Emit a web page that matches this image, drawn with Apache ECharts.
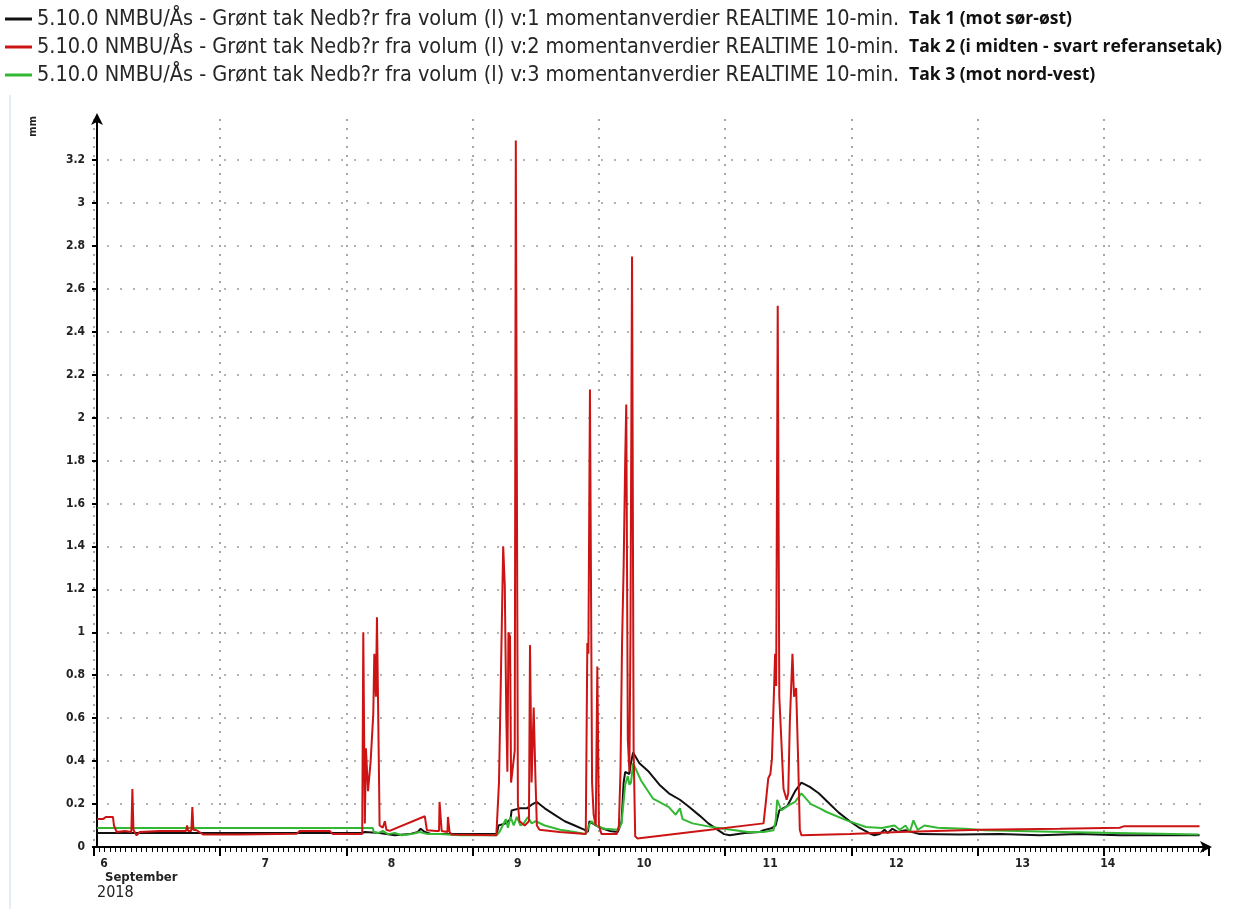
<!DOCTYPE html>
<html>
<head>
<meta charset="utf-8">
<title>Grønt tak - nedbør</title>
<script src="https://cdn.jsdelivr.net/npm/echarts@6/dist/echarts.min.js"></script>
<style>
  html, body { margin: 0; padding: 0; background: #fff; }
  #chart { width: 1243px; height: 909px; }
</style>
</head>
<body>
<div id="chart"></div>
<script>
const seriesNames = [
  '5.10.0 NMBU/Ås - Grønt tak Nedb?r fra volum (l) v:1 momentanverdier REALTIME 10-min.',
  '5.10.0 NMBU/Ås - Grønt tak Nedb?r fra volum (l) v:2 momentanverdier REALTIME 10-min.',
  '5.10.0 NMBU/Ås - Grønt tak Nedb?r fra volum (l) v:3 momentanverdier REALTIME 10-min.'
];
const roofNames = ['Tak 1 (mot sør-øst)', 'Tak 2 (i midten - svart referansetak)', 'Tak 3 (mot nord-vest)'];
const colors = ['#111111', '#cc1414', '#33b833'];
const dayLabels = ['6', '7', '8', '9', '10', '11', '12', '13', '14'];

// [hours since 6 Sep 2018 00:00, mm]
const tak1 = [[0.6,0.065],[50.9,0.065],[51.5,0.07],[54.3,0.065],[57.2,0.055],[60.0,0.06],[61.6,0.07],[62.1,0.085],[62.9,0.07],[64.2,0.06],[76.6,0.06],[76.9,0.1],[78.3,0.11],[79.2,0.13],[79.4,0.17],[80.9,0.18],[82.3,0.18],[83.4,0.2],[84.2,0.21],[85.7,0.18],[87.6,0.15],[89.5,0.12],[91.4,0.1],[93.3,0.08],[93.9,0.07],[94.2,0.12],[94.8,0.11],[96.2,0.09],[98.0,0.075],[99.6,0.07],[100.3,0.116],[100.7,0.3],[101.0,0.35],[101.8,0.34],[102.0,0.38],[102.5,0.44],[103.7,0.39],[105.5,0.35],[107.5,0.29],[109.3,0.25],[111.4,0.22],[113.0,0.19],[115.2,0.145],[116.8,0.11],[118.6,0.08],[119.8,0.06],[120.9,0.055],[123.7,0.065],[126.6,0.07],[127.3,0.078],[128.8,0.087],[129.6,0.1],[130.3,0.17],[131.8,0.19],[133.3,0.26],[134.5,0.30],[136.1,0.28],[137.8,0.25],[139.9,0.2],[141.6,0.16],[143.7,0.12],[145.3,0.093],[147.6,0.062],[148.4,0.055],[149.4,0.06],[150.3,0.08],[150.9,0.065],[151.8,0.085],[152.8,0.07],[154.3,0.078],[157.0,0.06],[164.6,0.058],[172.2,0.06],[179.8,0.055],[187.4,0.06],[195.0,0.055],[210.2,0.055]];

const tak2 = [[0.6,0.13],[1.7,0.13],[2.3,0.14],[3.6,0.14],[3.8,0.10],[4.3,0.07],[5.9,0.075],[7.1,0.07],[7.3,0.27],[7.5,0.08],[8.1,0.054],[8.7,0.07],[12.5,0.075],[17.5,0.075],[17.7,0.10],[17.9,0.075],[18.5,0.075],[18.7,0.186],[18.9,0.08],[19.5,0.078],[20.8,0.058],[27.2,0.058],[38.6,0.062],[39.1,0.075],[44.8,0.075],[45.4,0.06],[51.0,0.06],[51.2,1.0],[51.5,0.11],[51.7,0.46],[52.1,0.26],[52.6,0.40],[53.1,0.62],[53.3,0.90],[53.6,0.70],[53.8,1.07],[54.2,0.31],[54.3,0.10],[54.9,0.09],[55.3,0.12],[55.6,0.08],[56.2,0.075],[62.9,0.143],[63.3,0.078],[65.1,0.075],[65.6,0.075],[65.7,0.21],[66.1,0.075],[67.2,0.07],[67.3,0.14],[67.6,0.07],[68.0,0.058],[76.5,0.055],[77.0,0.3],[77.3,0.7],[77.8,1.40],[78.1,1.22],[78.4,0.6],[78.6,0.35],[78.8,1.0],[79.1,0.98],[79.3,0.3],[79.6,0.3],[80.0,0.45],[80.2,3.29],[80.3,3.29],[80.6,0.2],[80.9,0.12],[81.9,0.1],[82.7,0.12],[82.9,0.94],[83.2,0.3],[83.6,0.65],[83.9,0.35],[84.2,0.1],[84.7,0.08],[88.5,0.07],[93.5,0.06],[93.8,0.95],[94.0,0.9],[94.3,2.13],[94.7,0.3],[95.0,0.15],[95.4,0.1],[95.7,0.84],[96.0,0.1],[96.5,0.06],[99.4,0.06],[99.8,0.1],[100.1,0.35],[100.4,0.95],[100.7,1.3],[101.0,1.8],[101.2,2.06],[101.5,0.5],[101.8,0.35],[102.0,1.0],[102.3,2.75],[102.6,0.45],[102.9,0.05],[103.3,0.04],[115.2,0.075],[127.3,0.11],[127.7,0.20],[128.2,0.32],[128.6,0.34],[128.9,0.41],[129.5,0.90],[129.7,0.75],[130.0,2.52],[130.3,0.70],[130.7,0.49],[131.1,0.27],[131.7,0.22],[132.0,0.25],[132.3,0.58],[132.8,0.90],[133.1,0.70],[133.5,0.74],[133.9,0.39],[134.2,0.08],[134.5,0.055],[143.7,0.06],[153.2,0.07],[168.4,0.08],[183.6,0.085],[183.9,0.09],[195.0,0.09],[195.9,0.097],[210.2,0.097]];

const tak3 = [[0.6,0.088],[53.0,0.088],[53.2,0.07],[54.0,0.065],[54.9,0.075],[55.9,0.06],[57.2,0.065],[58.5,0.055],[60.4,0.06],[61.9,0.07],[63.5,0.06],[65.7,0.06],[69.5,0.055],[76.6,0.055],[77.1,0.07],[77.7,0.1],[78.3,0.13],[78.7,0.09],[79.2,0.14],[79.8,0.1],[80.4,0.14],[81.1,0.1],[81.7,0.11],[82.5,0.14],[83.2,0.11],[84.0,0.12],[85.7,0.1],[88.6,0.08],[91.4,0.07],[93.5,0.06],[94.1,0.1],[94.6,0.12],[95.4,0.1],[97.1,0.085],[99.6,0.08],[100.3,0.11],[101.0,0.29],[101.5,0.33],[101.8,0.29],[102.1,0.3],[102.5,0.39],[104.0,0.31],[106.3,0.225],[109.3,0.186],[110.6,0.15],[111.4,0.18],[111.9,0.13],[113.8,0.11],[116.8,0.096],[119.8,0.085],[124.3,0.07],[127.3,0.07],[129.2,0.078],[129.6,0.12],[129.9,0.22],[130.7,0.17],[131.8,0.19],[133.3,0.21],[134.5,0.25],[136.3,0.2],[138.0,0.18],[139.3,0.163],[143.1,0.124],[146.8,0.093],[149.8,0.088],[152.2,0.1],[153.2,0.08],[154.3,0.1],[155.1,0.07],[155.8,0.124],[156.6,0.08],[157.9,0.1],[160.4,0.09],[165.6,0.085],[169.3,0.078],[184.3,0.07],[210.0,0.058]];

const narrow = "'DejaVu Sans Condensed', 'Liberation Sans Narrow', sans-serif";

const chart = echarts.init(document.getElementById('chart'));

const lineSeries = (idx, data) => ({
  name: seriesNames[idx],
  type: 'line',
  data: data,
  showSymbol: false,
  clip: false,
  color: colors[idx],
  lineStyle: { color: colors[idx], width: 2 }
});

const option = {
  animation: false,
  backgroundColor: '#fff',
  legend: {
    data: seriesNames,
    orient: 'vertical',
    left: 0,
    top: 3,
    icon: 'rect',
    itemWidth: 27,
    itemHeight: 3,
    itemGap: 6,
    selectedMode: false,
    formatter: (name) => {
      const i = seriesNames.indexOf(name);
      return '{a|' + name + '}   {b|' + roofNames[i] + '}';
    },
    textStyle: {
      rich: {
        a: { fontFamily: narrow, fontSize: 21.5, color: '#262626', lineHeight: 24 },
        b: { fontFamily: 'Open Sans', fontWeight: 'bold', fontSize: 17.5, color: '#111', lineHeight: 24 }
      }
    }
  },
  grid: { left: 94, right: 34, top: 119, bottom: 62 },
  xAxis: {
    type: 'value',
    min: 0,
    max: 212,
    interval: 24,
    axisLine: {
      lineStyle: { color: '#000', width: 2 },
      symbol: ['none', 'arrow'],
      symbolSize: [9, 12],
      symbolOffset: [0, 3]
    },
    axisTick: { length: 9, lineStyle: { color: '#000', width: 2 } },
    minorTick: { show: true, splitNumber: 24, length: 5, lineStyle: { color: '#000', width: 1 } },
    splitLine: { show: true, showMaxLine: false, lineStyle: { color: '#8a8a8a', width: 1.5, type: [2, 7] } },
    axisLabel: {
      showMaxLabel: false,
      margin: 11,
      formatter: (v) => {
        if (v % 24 !== 0) return '';
        const i = v / 24;
        if (i === 0) return '{first|' + dayLabels[i] + '}';
        if (i === dayLabels.length - 1) return '{last|' + dayLabels[i] + '}';
        return '{mid|' + dayLabels[i] + '}';
      },
      rich: {
        first: { padding: [0, 0, 0, 20], fontFamily: narrow, fontWeight: 'bold', fontSize: 12, color: '#222' },
        mid: { padding: [0, 0, 0, 90], fontFamily: narrow, fontWeight: 'bold', fontSize: 12, color: '#222' },
        last: { padding: [0, 0, 0, 8], fontFamily: narrow, fontWeight: 'bold', fontSize: 12, color: '#222' }
      }
    }
  },
  yAxis: {
    type: 'value',
    min: 0,
    max: 3.39,
    interval: 0.2,
    offset: -3,
    axisLine: {
      show: true,
      lineStyle: { color: '#000', width: 2 },
      symbol: ['none', 'arrow'],
      symbolSize: [9, 12],
      symbolOffset: [0, 6]
    },
    axisTick: { show: true, length: 5, lineStyle: { color: '#000', width: 2 } },
    splitLine: { show: true, showMaxLine: false, showMinLine: false, lineStyle: { color: '#9a9a9a', width: 1.5, type: [2, 11] } },
    axisLabel: {
      showMaxLabel: false,
      margin: 12,
      fontFamily: narrow,
      fontWeight: 'bold',
      fontSize: 12,
      color: '#222'
    }
  },
  graphic: [
    { type: 'text', left: 28, top: 116, rotation: Math.PI / 2,
      style: { text: 'mm', font: "bold 11px 'DejaVu Sans Condensed', sans-serif", fill: '#222' } },
    { type: 'text', left: 105, top: 871,
      style: { text: 'September', font: "bold 13px 'DejaVu Sans Condensed', sans-serif", fill: '#222' } },
    { type: 'text', left: 97, top: 885,
      style: { text: '2018', font: "16px 'DejaVu Sans Condensed', sans-serif", fill: '#222' } },
    { type: 'line', shape: { x1: 10, y1: 95, x2: 10, y2: 909 }, style: { stroke: '#e3edf7', lineWidth: 2 } }
  ],
  series: [
    lineSeries(0, tak1),
    lineSeries(2, tak3),
    lineSeries(1, tak2)
  ]
};

chart.setOption(option);
window.addEventListener('resize', () => chart.resize());
</script>
</body>
</html>
